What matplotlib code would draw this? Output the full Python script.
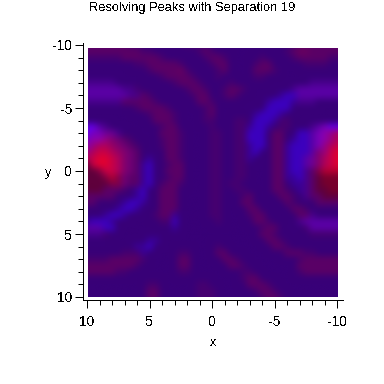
import numpy as np
import matplotlib
matplotlib.use('Agg')
import matplotlib.pyplot as plt
from matplotlib.patches import Rectangle

plt.rcParams['font.family'] = ['Liberation Sans', 'DejaVu Sans']
plt.rcParams['text.antialiased'] = False
plt.rcParams['axes.unicode_minus'] = False

title = 'Resolving Peaks with Separation 19'
ticks = [10, 5, 0, -5, -10]
minor = [9, 8, 7, 6, 4, 3, 2, 1, -1, -2, -3, -4, -6, -7, -8, -9]

# colour of each letter used in the grid below
level_colors = {
    '.': (56, 0, 120),
    'a': (70, 0, 112),
    'b': (90, 0, 102),
    'c': (105, 0, 95),
    'g': (72, 0, 140),
    'v': (90, 0, 165),
    'w': (100, 0, 235),
    't': (58, 0, 150),
    'u': (60, 0, 190),
    'p': (120, 0, 185),
    'x': (140, 0, 170),
    'q': (110, 0, 150),
    'm': (150, 0, 130),
    'k': (130, 0, 110),
    'h': (110, 0, 118),
    'o': (150, 0, 100),
    'n': (175, 0, 90),
    'r': (200, 0, 70),
    'R': (225, 0, 50),
    's': (180, 0, 50),
    'd': (130, 0, 70),
    'D': (120, 0, 45),
    'e': (95, 0, 60),
    'f': (90, 0, 105),
}

# half unit grid, rows y=-10..10, columns x=10..-10
rows = [
    "bbbbbbbaa.......aaaa.............abbbbbbb",
    "bbbbbbbbbaa.......aba...........abccbbbbb",
    "aaaaaabbbbbba......abba.....a....abbbbbaa",
    "........aabbbbba....abb....abb.....aaaa..",
    "..........abbbbca....ab....bbba..........",
    "............abbbba...a.....aa............",
    "ggggg.........abbba....a............ggggg",
    "vvvvvvgga.......abba..abba.......gvvvvvvv",
    "vvvvvvvggba......abb..aba......tuuvvvvvvv",
    "ggggggbbbbba......bba........tuuutggg....",
    "........abbbba.....ab........uuuu........",
    "..........abbba....ab......tuuut.........",
    "...........bbba....aa...aa.uuutaa........",
    "wwvg........abb.....a...aatuut.aa...gvpww",
    "wppqqg......bbba....aa..aauuu.bb..uuvpxmn",
    "pxxmkhfa....abba....aa..aauuu.bb.tuuvpxmn",
    "xmnnokhfa...abba....aa..aatuu.bbtuuuvpmnr",
    "mnrrnokhf....bba....aa..aatu..bbtuuuvkmrR",
    "nrRRrnkhf.t..bba....aa..aat...bbtuuvqknrR",
    "erRRrnkhftu..abb....aa..aa....bbtuuvqknrR",
    "eedrrnkhftu..bbb....aa..aa....bbtuugfdsss",
    "eeedsdhfftu..abb....aa..aa....bbttugfeDDD",
    "eeeeddhfftu.abba....aa.aa.....bb.ttgfeDDD",
    "eeefffa.tu..bbb.....aa..aa....bba.tgfeeDD",
    "fffff...tu..bbb.....aa...ab....bba.gffeee",
    "ff....tuut..bbb.....aa...bb.....ba...ffff",
    ".....tuut...bbb.....aa....bb.....bba.....",
    "...tuut....abbt.....aa....abb.....bbg....",
    "tuuut.......aau......a.....bba....gvvvvvv",
    "vvvuu.........t.............abb....avvvvv",
    "ggga........................bba.....aaaaa",
    "..........tt.................bba.........",
    "........ttu..........a........bba........",
    "......aaat.....aa....bb.........bbbaa....",
    "aaaabbbbba.....bb.....bba.........abbbbbb",
    "bbbbbbbba......bb......bba........bbbbbbb",
    "bbbbbaa........aa........aa.......abbbbbb",
    ".........................abb.............",
    "..........aa......aa......bbba...........",
    "..........bb......aaa......abba..........",
    "..........bb......aaa.......abba.........",
]

rgb = np.array([[level_colors[c] for c in row] for row in rows]) / 255.0

fig = plt.figure(figsize=(3.84, 3.84), dpi=100)
ax = fig.add_axes([87 / 384, 1 - 297 / 384, 250 / 384, 252 / 384])

# grid points sit on half units, so the cells reach a quarter unit past the edge
img = ax.imshow(rgb, extent=(10.25, -10.25, 10.25, -10.25), interpolation='bicubic', aspect='auto')
img.set_clip_path(Rectangle((9.92, -9.76), -19.96, 19.76, transform=ax.transData))
ax.set_xlim(10, -10)
ax.set_ylim(10, -10)

for side in ['top', 'right']:
    ax.spines[side].set_visible(False)
ax.spines['left'].set_position(('outward', 2.9))
ax.spines['bottom'].set_position(('outward', 2.5))
ax.spines['left'].set_bounds(10.24, -10.16)
ax.spines['bottom'].set_bounds(10.32, -10.48)
ax.spines['left'].set_linewidth(0.72)
ax.spines['bottom'].set_linewidth(0.72)

ax.set_xticks(ticks)
ax.set_yticks(ticks)
ax.set_xticks(minor, minor=True)
ax.set_yticks(minor, minor=True)
ax.tick_params(which='major', length=6, width=0.72, labelsize=10)
ax.tick_params(which='minor', length=3.6, width=0.72)
ax.tick_params(axis='x', which='major', pad=4.5)
ax.tick_params(axis='y', which='major', pad=1.5)

fig.text(192 / 384, 1 - 8 / 384, title, ha='center', va='center', fontsize=9.25)
fig.text(213 / 384, 1 - 343 / 384, 'x', ha='center', va='center', fontsize=9)
fig.text(48 / 384, 1 - 173 / 384, 'y', ha='center', va='center', fontsize=9)

fig.savefig('out.png', dpi=100)
